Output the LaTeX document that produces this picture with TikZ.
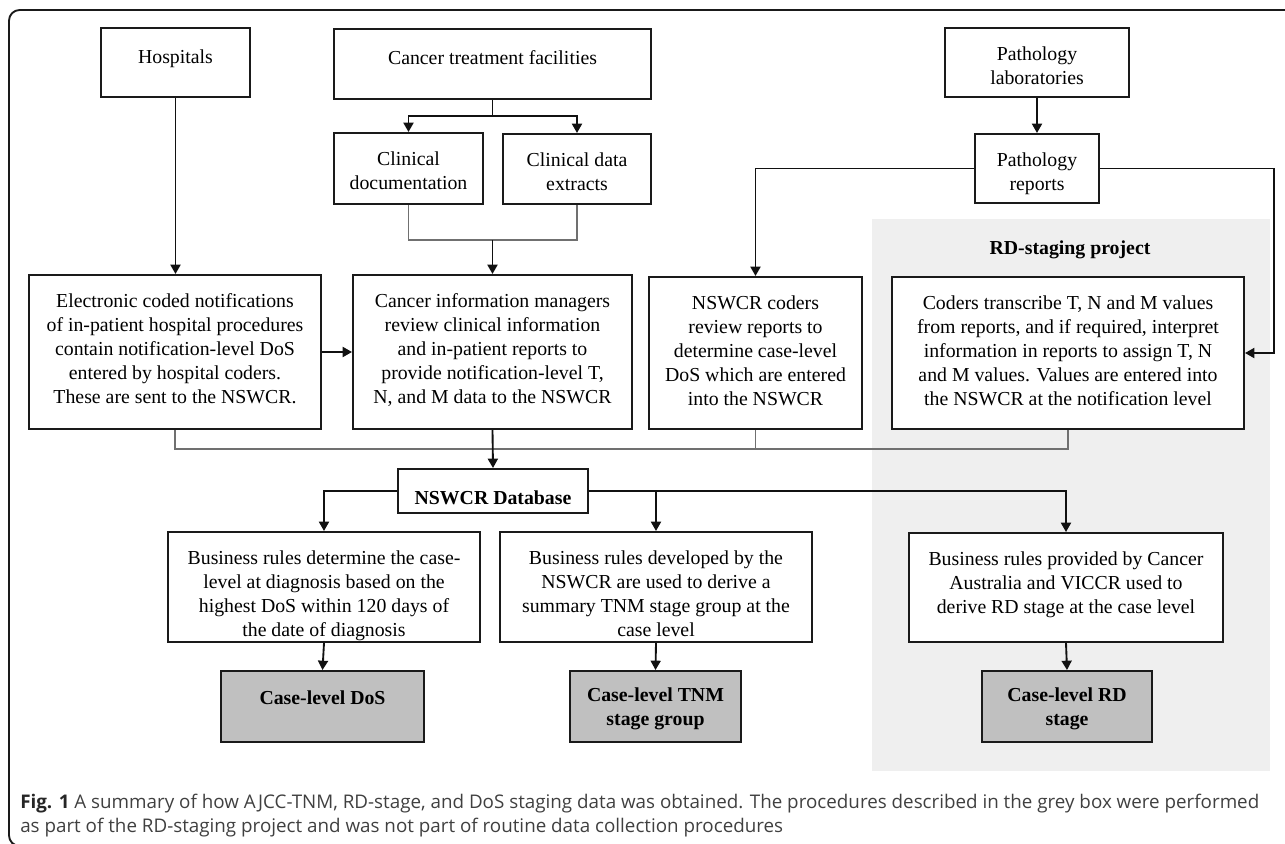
\documentclass[tikz,border=0pt]{standalone}
\usepackage{fontspec}
\setmainfont{Liberation Serif}
\newfontfamily\capfont{Open Sans}
\usetikzlibrary{arrows.meta,fit}
\definecolor{lineclr}{HTML}{1A1A1A}
\definecolor{conclr}{HTML}{111111}
\definecolor{mergeclr}{HTML}{707070}
\definecolor{boxfill}{HTML}{C0C0C0}
\definecolor{regionfill}{HTML}{EFEFEF}
\definecolor{capclr}{HTML}{404040}
\begin{document}
\begin{tikzpicture}[x=0.75pt,y=-0.75pt,
  box/.style={draw=lineclr, line width=1.5pt, inner sep=0pt, fill=white},
  gbox/.style={box, fill=boxfill},
  txt/.style={anchor=north, inner sep=0pt, align=center, font=\fontsize{14.85}{18}\selectfont, execute at begin node=\strut},
  btxt/.style={txt, font=\fontsize{14.85}{18}\selectfont\bfseries},
  arr/.style={draw=conclr, line width=1.4pt, -{Triangle[width=7.5pt,length=7pt]}},
  con/.style={draw=conclr, line width=1.4pt},
  mrg/.style={draw=mergeclr, line width=1.2pt},
]
\useasboundingbox (0,0) rectangle (1285,843);
\clip (0,0) rectangle (1285,843);
% outer frame
\draw[draw=lineclr, line width=1.4pt, rounded corners=8pt] (9,10) rectangle (1320,846);
% grey project region
\node[fill=regionfill, inner sep=0pt, fit={(872,219) (1270,771)}] (rdreg) {};
\node[btxt] (rdT) at (1070,237) {RD-staging project};

% boxes
\node[box, fit={(101,28) (250,97)}] (hosp) {};
\node[box, fit={(334,29) (651,99)}] (ctf) {};
\node[box, fit={(334,133) (483,204)}] (cdoc) {};
\node[box, fit={(503,134) (651,204)}] (cdat) {};
\node[box, fit={(945,28) (1129,97)}] (plab) {};
\node[box, fit={(975,134) (1099,203)}] (prep) {};
\node[box, fit={(29,275) (321,429)}] (elec) {};
\node[box, fit={(353,275) (632,429)}] (cim) {};
\node[box, fit={(649,277) (862,429)}] (ncod) {};
\node[box, fit={(892,277) (1244,429)}] (ctr) {};
\node[box, fit={(398,469) (588,513)}] (db) {};
\node[box, fit={(168,532) (480,642)}] (br1) {};
\node[box, fit={(500,532) (812,642)}] (br2) {};
\node[box, fit={(909,533) (1223,642)}] (br3) {};
\node[gbox, fit={(221,671) (424,742)}] (g1) {};
\node[gbox, fit={(570,671) (741,742)}] (g2) {};
\node[gbox, fit={(982,671) (1152,742)}] (g3) {};

% texts
\node[txt, yshift=-14.5pt] (hospT) at (hosp.north) {Hospitals};
\node[txt, yshift=-14.5pt] (ctfT) at (ctf.north) {Cancer treatment facilities};
\node[txt, yshift=-14.5pt] (cdocT) at (cdoc.north) {Clinical\\documentation};
\node[txt, yshift=-14.5pt] (cdatT) at (cdat.north) {Clinical data\\extracts};
\node[txt, yshift=-14.5pt] (plabT) at (plab.north) {Pathology\\laboratories};
\node[txt, yshift=-14.5pt] (prepT) at (prep.north) {Pathology\\reports};
\node[txt, yshift=-14.5pt] (elecT) at (elec.north) {Electronic coded notifications\\of in-patient hospital procedures\\contain notification-level DoS\\entered by hospital coders.\\These are sent to the NSWCR.};
\node[txt, yshift=-14.5pt] (cimT) at (cim.north) {Cancer information managers\\review clinical information\\and in-patient reports to\\provide notification-level T,\\N, and M data to the NSWCR};
\node[txt, yshift=-14.5pt] (ncodT) at (ncod.north) {NSWCR coders\\review reports to\\determine case-level\\DoS which are entered\\into the NSWCR};
\node[txt, yshift=-14.5pt] (ctrT) at (ctr.north) {Coders transcribe T, N and M values\\from reports, and if required, interpret\\information in reports to assign T, N\\and M values. Values are entered into\\the NSWCR at the notification level};
\node[btxt, yshift=-14.5pt] (dbT) at (db.north) {NSWCR Database};
\node[txt, yshift=-14.5pt] (br1T) at (br1.north) {Business rules determine the case-\\level at diagnosis based on the\\highest DoS within 120 days of\\the date of diagnosis};
\node[txt, yshift=-14.5pt] (br2T) at (br2.north) {Business rules developed by the\\NSWCR are used to derive a\\summary TNM stage group at the\\case level};
\node[txt, yshift=-14.5pt] (br3T) at (br3.north) {Business rules provided by Cancer\\Australia and VICCR used to\\derive RD stage at the case level};
\node[btxt, yshift=-13pt] (g1T) at (g1.north) {Case-level DoS};
\node[btxt, yshift=-13pt] (g2T) at (g2.north) {Case-level TNM\\stage group};
\node[btxt, yshift=-13pt] (g3T) at (g3.north) {Case-level RD\\stage};

% connectors
\draw[arr] (hosp.south) -- (hosp.south |- elec.north);
\coordinate (ctfb) at (ctf.south |- 0,116);
\draw[con] (ctf.south) -- (ctfb);
\draw[arr] (ctfb) -| (cdoc.north);
\draw[arr] (ctfb) -| (cdat.north);
\coordinate (cm) at (cim.north |- 0,240);
\draw[mrg] (cdoc.south) |- (cm) -| (cdat.south);
\draw[arr] (cm) -- (cim.north);
\draw[arr] (elec.east) -- (cim.west);
\draw[arr] (plab.south) -- (prep.north);
\draw[arr] (prep.west) -| (ncod.north);
\coordinate (pr) at (1274,169);
\draw[arr] (prep.east) -| (pr |- ctr.east) -- (ctr.east);
\coordinate (m1) at (0,449);
\draw[mrg] (elec.south) |- (ctr.south |- m1) -- (ctr.south);
\draw[mrg] (ncod.south) -- (ncod.south |- m1);
\draw[arr] (cim.south) -- (db.north);
\draw[arr] (db.west) -| (br1.north);
\draw[arr] (db.east) -| (br3.north);
\draw[arr] (br2.north |- db.east) -- (br2.north);
\draw[arr] (br1.south) -- (g1.north);
\draw[arr] (br2.south) -- (g2.north);
\draw[arr] (br3.south) -- (g3.north);

% caption
\node[anchor=base west, inner sep=0pt, align=left, text=capclr, font=\capfont\fontsize{14.1}{18}\selectfont] (cap) at (20,832) {{\color{black!85}\bfseries Fig. 1} A summary of how AJCC-TNM, RD-stage, and DoS staging data was obtained. The procedures described in the grey box were performed\\as part of the RD-staging project and was not part of routine data collection procedures};
\end{tikzpicture}
\end{document}
